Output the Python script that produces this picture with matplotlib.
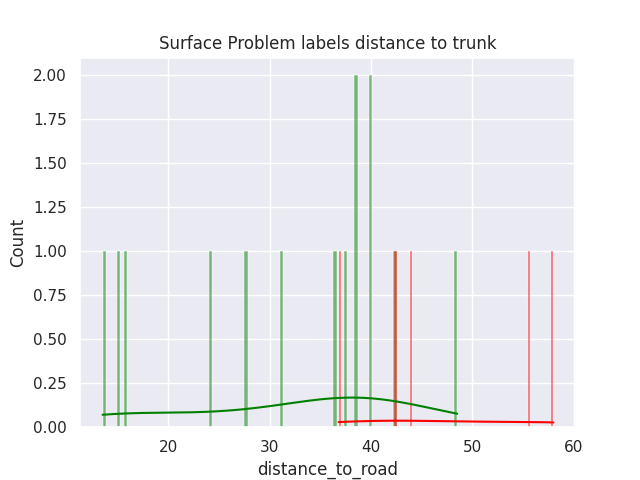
import matplotlib
matplotlib.use("Agg")
import matplotlib.pyplot as plt
import seaborn as sns
import pandas as pd

green_vals = [13.5, 15.2, 15.6, 24.0, 27.6, 31.1, 36.3, 37.5, 38.5, 38.5, 40.0, 40.0, 42.3, 48.5]
red_vals = [36.8, 42.5, 43.9, 55.5, 58.0]

sns.set_theme()
fig, ax = plt.subplots(figsize=(6.4, 4.8), dpi=100)
sns.histplot(pd.Series(green_vals, name="distance_to_road"), bins=100, kde=True, color="green", ax=ax)
sns.histplot(pd.Series(red_vals, name="distance_to_road"), bins=100, kde=True, color="red", ax=ax)
ax.set_title("Surface Problem labels distance to trunk")
ax.set_xlabel("distance_to_road")
ax.set_ylabel("Count")
fig.savefig("out.png")
